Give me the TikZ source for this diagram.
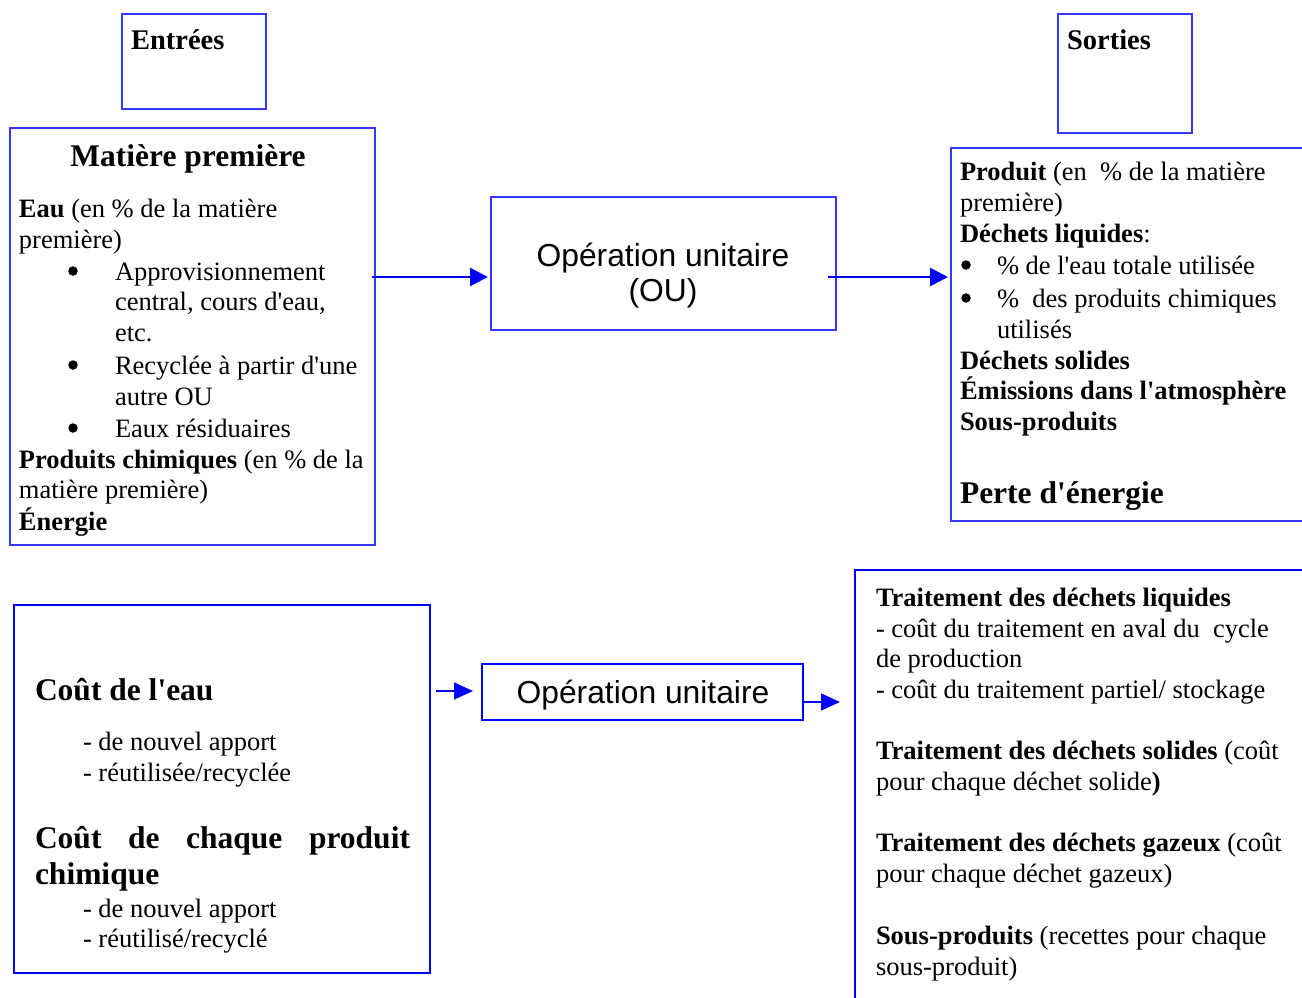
\documentclass[tikz,border=0pt]{standalone}
\usepackage{fontspec}
\setmainfont{Liberation Serif}
\newfontfamily\opfont{Liberation Sans}
\usetikzlibrary{arrows.meta}

\definecolor{frameblue}{RGB}{0,0,255}
\definecolor{thinblue}{RGB}{55,55,255}

% straight apostrophe
\newcommand\ap{\textquotesingle}

\tikzset{
  every node/.style={inner sep=0pt, outer sep=0pt},
  thinbox/.style={draw=thinblue, line width=1.3pt, anchor=north west},
  thickbox/.style={draw=frameblue, line width=2.2pt, anchor=north west},
  body/.style={anchor=base west, font=\fontsize{26.5}{31}\selectfont},
  bodyb/.style={anchor=base west, font=\fontsize{26.5}{31}\selectfont\bfseries},
  head/.style={anchor=base west, font=\fontsize{31.5}{36}\selectfont\bfseries},
  tag/.style={anchor=base west, font=\fontsize{28.5}{33}\selectfont\bfseries},
  optext/.style={align=center, font=\fontsize{31.8}{37}\selectfont\opfont},
  bullet/.style={circle, fill=black, minimum size=9.5pt},
  bigarrow/.style={draw=frameblue, line width=2.8pt, -{Triangle[length=18pt,width=18pt]}},
  smallarrow/.style={draw=frameblue, line width=1.6pt, -{Triangle[length=19pt,width=17pt]}},
}

\begin{document}
\begin{tikzpicture}[x=1pt, y=-1pt]
\useasboundingbox (0,0) rectangle (1302,998);

% ---------- top row: frames ----------
\node[thinbox, minimum width=144pt, minimum height=95pt] (entrees) at (122,14) {};
\node[thinbox, minimum width=134pt, minimum height=119pt] (sorties) at (1058,14) {};
\node[thinbox, minimum width=365pt, minimum height=417pt] (matiere) at (10,128) {};
\node[thinbox, minimum width=345pt, minimum height=133pt] (ou) at (491,197) {};
% output frame runs off the right edge
\coordinate (sortieTL) at (951,148);
\draw[draw=thinblue, line width=1.3pt] (1304,148) -- (sortieTL) -- (951,521) -- (1304,521);
\node[minimum width=1pt, minimum height=373pt, anchor=north west] (sortie) at (951,148) {};

% ---------- top row: texts ----------
\node[tag] (t-entrees) at (131,50) {Entrées};
\node[tag] (t-sorties) at (1067,50) {Sorties};

\node[head, anchor=base] (t-mp) at (188,166) {Matière première};
\node[body] (t-eau1) at (19,217) {\textbf{Eau} (en \% de la matière};
\node[body] (t-eau2) at (19,248) {première)};
\node[bullet] (b1) at (73,271) {};
\node[body] (t-app1) at (115,280) {Approvisionnement};
\node[body] (t-app2) at (115,310) {central, cours d\ap eau,};
\node[body] (t-app3) at (115,341) {etc.};
\node[bullet] (b2) at (73,365) {};
\node[body] (t-rec1) at (115,374) {Recyclée à partir d\ap une};
\node[body] (t-rec2) at (115,405) {autre OU};
\node[bullet] (b3) at (73,428) {};
\node[body] (t-res) at (115,437) {Eaux résiduaires};
\node[body] (t-pc1) at (19,468) {\textbf{Produits chimiques} (en \% de la};
\node[body] (t-pc2) at (19,498) {matière première)};
\node[bodyb] (t-en) at (19,530) {Énergie};

\node[optext] (t-ou) at (663,276) {Opération unitaire\\[-2pt](OU)};

\node[body] (t-pr1) at (960,180) {\textbf{Produit} (en\enspace\% de la matière};
\node[body] (t-pr2) at (960,211) {première)};
\node[body] (t-dl) at (960,242) {\textbf{Déchets liquides}:};
\node[bullet] (b4) at (966,265) {};
\node[body] (t-dl1) at (997,274) {\% de l\ap eau totale utilisée};
\node[bullet] (b5) at (966,298) {};
\node[body] (t-dl2) at (997,307) {\%\enspace des produits chimiques};
\node[body] (t-dl3) at (997,338) {utilisés};
\node[bodyb] (t-ds) at (960,369) {Déchets solides};
\node[bodyb] (t-em) at (960,399) {Émissions dans l\ap atmosphère};
\node[bodyb] (t-sp) at (960,430) {Sous-produits};
\node[head] (t-pe) at (960,503) {Perte d\ap énergie};

% ---------- top row: flows ----------
\draw[bigarrow] (matiere.east |- 0,277) ++(-3,0) -- ([xshift=-3pt]ou.west |- 0,277);
\draw[bigarrow] ([xshift=-8pt]ou.east |- 0,277) -- ([xshift=-3pt]sortie.west |- 0,277);

% ---------- bottom row: frames ----------
\node[thickbox, minimum width=416pt, minimum height=368pt] (couts) at (14,605) {};
\node[thickbox, minimum width=321pt, minimum height=56pt] (op) at (482,664) {};
\draw[draw=frameblue, line width=2.2pt] (1304,570) -- (855,570) -- (855,1000);
\node[minimum width=1pt, minimum height=428pt, anchor=north west] (traite) at (855,570) {};

% ---------- bottom row: texts ----------
\node[head] (t-ce) at (35,700) {Coût de l\ap eau};
\node[body] (t-ce1) at (83,750) {- de nouvel apport};
\node[body] (t-ce2) at (83,781) {- réutilisée/recyclée};
\node[head] (t-cc1) at (35,848) {\hbox to 375pt{Coût\hfill de\hfill chaque\hfill produit}};
\node[head] (t-cc2) at (35,884) {chimique};
\node[body] (t-cc3) at (83,917) {- de nouvel apport};
\node[body] (t-cc4) at (83,947) {- réutilisé/recyclé};

\node[optext] (t-op) at (643,695) {Opération unitaire};

\node[bodyb] (t-tl) at (876,606) {Traitement des déchets liquides};
\node[body] (t-tl1) at (876,637) {- coût du traitement en aval du\enspace cycle};
\node[body] (t-tl2) at (876,667) {de production};
\node[body] (t-tl3) at (876,698) {- coût du traitement partiel/ stockage};
\node[body] (t-ts1) at (876,759) {\textbf{Traitement des déchets solides} (coût};
\node[body] (t-ts2) at (876,790) {pour chaque déchet solide\textbf{)}};
\node[body] (t-tg1) at (876,851) {\textbf{Traitement des déchets gazeux} (coût};
\node[body] (t-tg2) at (876,882) {pour chaque déchet gazeux)};
\node[body] (t-so1) at (876,944) {\textbf{Sous-produits} (recettes pour chaque};
\node[body] (t-so2) at (876,975) {sous-produit)};

% ---------- bottom row: flows ----------
\draw[smallarrow] ([xshift=6pt]couts.east |- 0,691) -- ([xshift=-9pt]op.west |- 0,691);
\draw[smallarrow] (op.east |- 0,702) -- ([xshift=-15pt]traite.west |- 0,702);
\end{tikzpicture}
\end{document}
